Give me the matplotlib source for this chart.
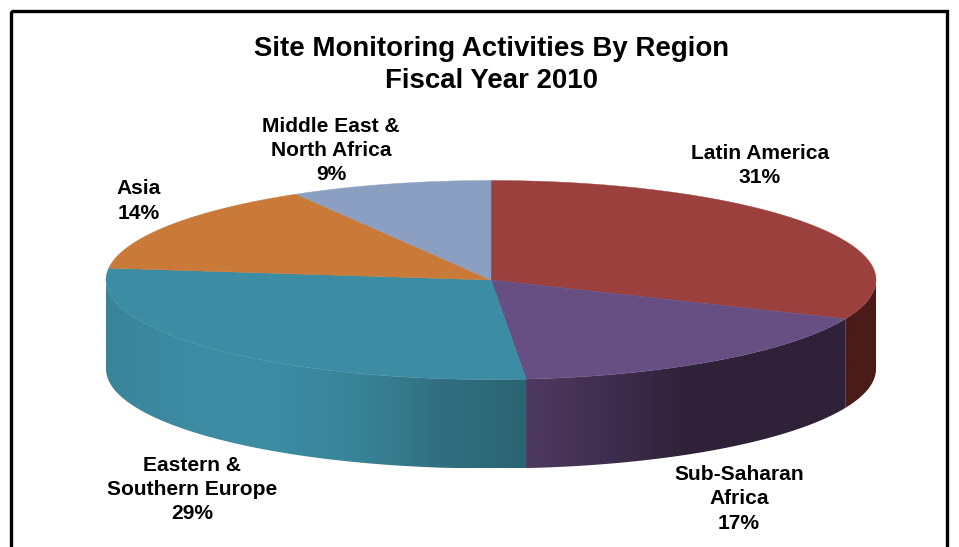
import numpy as np
import matplotlib
matplotlib.use("Agg")
import matplotlib.pyplot as plt
from matplotlib.patches import Polygon, Rectangle
from matplotlib.colors import LinearSegmentedColormap

regions = ["Latin America", "Sub-Saharan\nAfrica", "Eastern &\nSouthern Europe", "Asia", "Middle East &\nNorth Africa"]
percent_labels = [31, 17, 29, 14, 9]
# slice sizes as drawn on the tilted pie
slice_sizes = [31.4, 17.15, 28.35, 14.65, 8.45]
top_colors = ["#9c403e", "#674f84", "#3c8ca3", "#c97a38", "#8a9fc2"]
wall_stops = [
    ["#4a1b18", "#4a1b18"],
    ["#4f3a5f", "#3f2e4e", "#2f2238", "#2e2138", "#2e2138"],
    ["#398499", "#3c8ca3", "#3c8ca3", "#398397", "#316f80", "#2b6472"],
    ["#c97a38", "#c97a38"],
    ["#8a9fc2", "#8a9fc2"],
]
label_pos = [(760, 165.5), (739, 499), (192, 489.5), (139, 201), (331, 150.5)]

CX, CY, RX, RY, DEPTH = 491.0, 280.0, 385.0, 99.5, 89.0

plt.rcParams["font.family"] = ["Liberation Sans", "DejaVu Sans"]
fig = plt.figure(figsize=(9.59, 5.47), dpi=100)
ax = fig.add_axes([0, 0, 1, 1])
ax.set_xlim(0, 959)
ax.set_ylim(547, 0)
ax.axis("off")

# frame (open at the bottom edge of the picture)
ax.add_patch(Rectangle((11, 11), 935.5, 560, fill=False, ec="black", lw=2.4, zorder=1))


def rim(t):
    """Point on the top ellipse; t is clockwise from 12 o'clock, in radians."""
    return CX + RX * np.sin(t), CY - RY * np.cos(t)


edges = np.radians(np.cumsum([0] + slice_sizes) / sum(slice_sizes) * 360)

# side walls: only the front half of the rim is visible
for i in range(len(slice_sizes)):
    a, b = max(edges[i], np.pi / 2), min(edges[i + 1], 3 * np.pi / 2)
    if b <= a:
        continue
    t = np.linspace(a, b, 200)
    x, y = rim(t)
    pts = np.r_[np.c_[x, y], np.c_[x[::-1], y[::-1] + DEPTH]]
    poly = Polygon(pts, closed=True, fc="none", ec="none", zorder=2)
    ax.add_patch(poly)
    cmap = LinearSegmentedColormap.from_list("w", wall_stops[i])
    x0, x1 = x.min(), x.max()
    grad = np.linspace(0, 1, 256).reshape(1, -1)
    im = ax.imshow(grad, cmap=cmap, extent=(x0, x1, y.max() + DEPTH, y.min()),
                   aspect="auto", zorder=2, interpolation="bilinear")
    im.set_clip_path(poly)

# top faces
for i in range(len(slice_sizes)):
    t = np.linspace(edges[i], edges[i + 1], 200)
    x, y = rim(t)
    pts = np.r_[[[CX, CY]], np.c_[x, y]]
    ax.add_patch(Polygon(pts, closed=True, fc=top_colors[i], ec=top_colors[i], lw=0.3, zorder=3))

ax.set_xlim(0, 959)
ax.set_ylim(547, 0)

ax.text(491.5, 65, "Site Monitoring Activities By Region\nFiscal Year 2010", ha="center", va="center",
        fontsize=19.9, fontweight="bold", color="black", linespacing=1.25, zorder=5)

for name, pct, (lx, ly) in zip(regions, percent_labels, label_pos):
    ax.text(lx, ly, f"{name}\n{pct}%", ha="center", va="center", fontsize=15.1,
            fontweight="bold", color="black", linespacing=1.35, zorder=5)

fig.savefig("out.png", dpi=100, facecolor="white")
